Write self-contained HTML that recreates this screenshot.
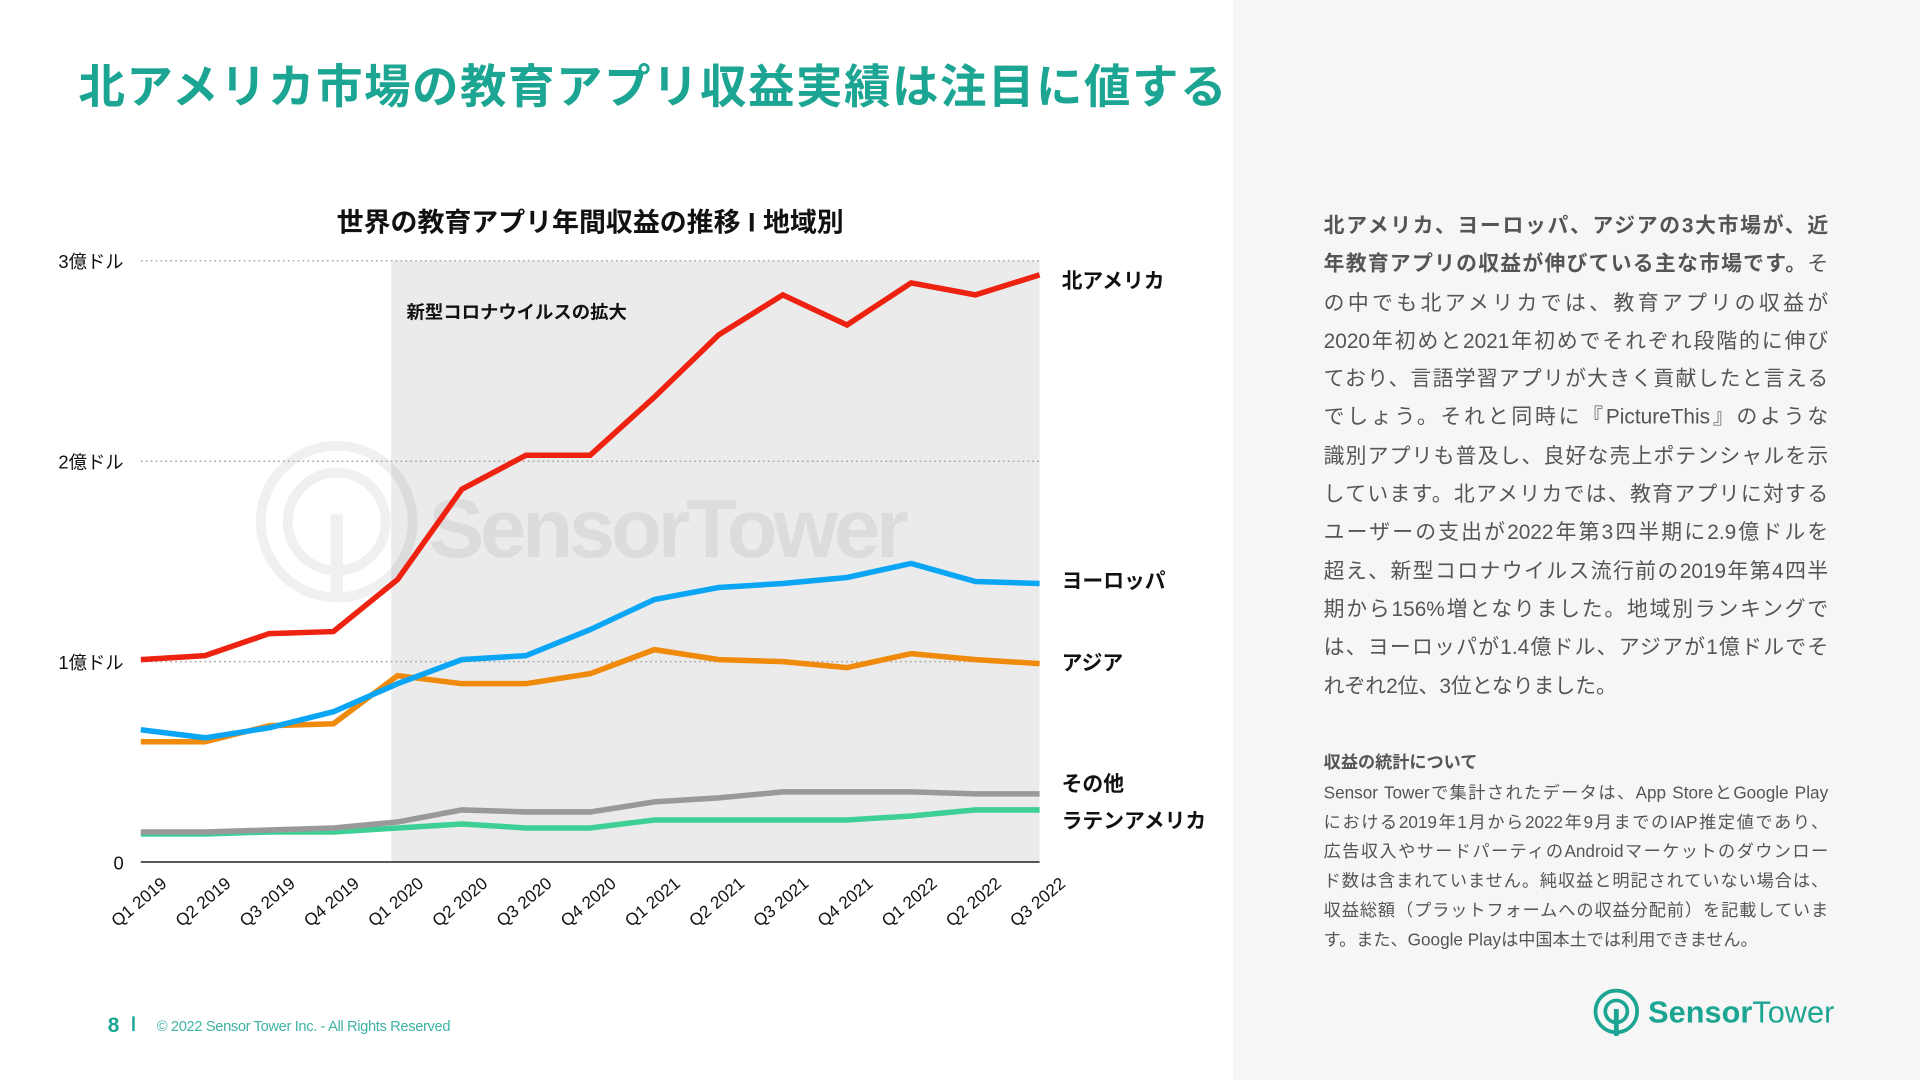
<!DOCTYPE html>
<html><head><meta charset="utf-8">
<style>
html,body{margin:0;padding:0;width:1920px;height:1080px;overflow:hidden;background:#fff;}
#stage{position:absolute;left:0;top:0;width:1568px;height:882px;transform:scale(1.2244898);transform-origin:0 0;font-family:"Liberation Sans","Noto Sans CJK JP",sans-serif;}
.abs{position:absolute;}
#title{left:64px;top:40px;font-size:38px;font-weight:bold;color:#1ba592;letter-spacing:1.2px;white-space:nowrap;}
#panel{left:1007px;top:0;width:561px;height:882px;background:#f6f6f6;}
.para div{width:412px;text-align:justify;text-align-last:justify;font-size:17px;color:#555;height:31.3px;line-height:31.3px;white-space:nowrap;}
.note div{width:412px;text-align:justify;text-align-last:justify;font-size:14px;color:#555;height:24px;line-height:24px;white-space:nowrap;}
</style></head>
<body>
<div id="stage">
<div id="panel" class="abs"></div>
<div id="title" class="abs">北アメリカ市場の教育アプリ収益実績は注目に値する</div>

<svg class="abs" style="left:0;top:0" width="1007" height="882">
 <g id="plot"></g>
 <text x="482" y="189" text-anchor="middle" font-size="22" font-weight="bold" fill="#111">世界の教育アプリ年間収益の推移 I 地域別</text>
</svg>

<div class="abs para" style="left:1081px;top:169px">
<div style="font-weight:bold">北アメリカ、ヨーロッパ、アジアの3大市場が、近</div>
<div><b>年教育アプリの収益が伸びている主な市場です。</b>そ</div>
<div>の中でも北アメリカでは、教育アプリの収益が</div>
<div>2020年初めと2021年初めでそれぞれ段階的に伸び</div>
<div>ており、言語学習アプリが大きく貢献したと言える</div>
<div>でしょう。それと同時に『PictureThis』のような</div>
<div>識別アプリも普及し、良好な売上ポテンシャルを示</div>
<div>しています。北アメリカでは、教育アプリに対する</div>
<div>ユーザーの支出が2022年第3四半期に2.9億ドルを</div>
<div>超え、新型コロナウイルス流行前の2019年第4四半</div>
<div>期から156%増となりました。地域別ランキングで</div>
<div>は、ヨーロッパが1.4億ドル、アジアが1億ドルでそ</div>
<div style="text-align-last:left">れぞれ2位、3位となりました。</div>
</div>
<div class="abs" style="left:1081px;top:612px;font-size:14px;font-weight:bold;color:#555">収益の統計について</div>
<div class="abs note" style="left:1081px;top:635px">
<div>Sensor Towerで集計されたデータは、App StoreとGoogle Play</div>
<div>における2019年1月から2022年9月までのIAP推定値であり、</div>
<div>広告収入やサードパーティのAndroidマーケットのダウンロー</div>
<div>ド数は含まれていません。純収益と明記されていない場合は、</div>
<div>収益総額（プラットフォームへの収益分配前）を記載していま</div>
<div style="text-align-last:left">す。また、Google Playは中国本土では利用できません。</div>
</div>

<svg class="abs" style="left:1300px;top:805px" width="210" height="42">
 <circle cx="20" cy="21" r="17" fill="none" stroke="#1ba592" stroke-width="3"/>
 <circle cx="20" cy="21" r="9" fill="none" stroke="#1ba592" stroke-width="3"/>
 <rect x="18" y="19" width="4" height="22" fill="#1ba592"/>
 <text x="46" y="30" font-size="25" fill="#1ba592" font-family="Liberation Sans,sans-serif" textLength="152"><tspan font-weight="bold">Sensor</tspan>Tower</text>
</svg>
<div class="abs" style="left:88px;top:828px;font-size:17px;font-weight:bold;color:#1ba592">8</div>
<div class="abs" style="left:108px;top:830px;width:2px;height:12px;background:#1ba592"></div>
<div class="abs" style="left:128px;top:831px;font-size:12px;color:#3fb3a2;letter-spacing:-0.3px">© 2022 Sensor Tower Inc. - All Rights Reserved</div>
</div>

<script>
const categories=["Q1 2019","Q2 2019","Q3 2019","Q4 2019","Q1 2020","Q2 2020","Q3 2020","Q4 2020","Q1 2021","Q2 2021","Q3 2021","Q4 2021","Q1 2022","Q2 2022","Q3 2022"];
const northAmerica=[1.01,1.03,1.14,1.15,1.41,1.86,2.03,2.03,2.32,2.63,2.83,2.68,2.89,2.83,2.93];
const europe=[0.66,0.62,0.67,0.75,0.89,1.01,1.03,1.16,1.31,1.37,1.39,1.42,1.49,1.40,1.39];
const asia=[0.60,0.60,0.68,0.69,0.93,0.89,0.89,0.94,1.06,1.01,1.00,0.97,1.04,1.01,0.99];
const other=[0.15,0.15,0.16,0.17,0.20,0.26,0.25,0.25,0.30,0.32,0.35,0.35,0.35,0.34,0.34];
const latam=[0.14,0.14,0.15,0.15,0.17,0.19,0.17,0.17,0.21,0.21,0.21,0.21,0.23,0.26,0.26];
const yTicks=[0,1,2,3];
const yTickLabels=["0","1億ドル","2億ドル","3億ドル"];
const covidStart=3.9;

const NS="http://www.w3.org/2000/svg";
const g=document.getElementById('plot');
const X0=115,X1=849,Y0=704,Y1=213,YMAX=3;
const x=i=>X0+(X1-X0)*i/(categories.length-1);
const y=v=>Y0-(Y0-Y1)*v/YMAX;
function mk(tag,attrs,parent){const e=document.createElementNS(NS,tag);for(const k in attrs)e.setAttribute(k,attrs[k]);(parent||g).appendChild(e);return e;}

const sh=mk('rect',{x:x(covidStart),y:y(YMAX),width:X1-x(covidStart),height:Y0-y(YMAX),fill:'#ebebeb'});



const wm=mk('g',{opacity:0.06});


mk('circle',{cx:275,cy:426,r:62,fill:'none',stroke:'#000','stroke-width':8},wm);
mk('circle',{cx:275,cy:426,r:40,fill:'none',stroke:'#000','stroke-width':8},wm);
mk('rect',{x:270,y:420,width:10,height:70,fill:'#000'},wm);
const wt=mk('text',{x:350,y:455,'font-size':68,'font-weight':'bold',fill:'#000',textLength:392},wm);
wt.textContent='SensorTower';

const st=mk('text',{x:332,y:260,'font-size':15,'font-weight':'bold',fill:'#111'});
st.textContent='新型コロナウイルスの拡大';



yTicks.forEach((t,i)=>{
 if(t>0){const l=mk('line',{x1:X0,x2:X1,y1:y(t),y2:y(t),stroke:'#aaa','stroke-width':1.2,'stroke-dasharray':'1.5 2.5'});
 
 }
 const tx=mk('text',{x:101,y:y(t)+6,'text-anchor':'end','font-size':15,fill:'#111'});
 tx.textContent=yTickLabels[i];
 
 
});
const ax=mk('line',{x1:X0,x2:X1,y1:Y0,y2:Y0,stroke:'#222','stroke-width':1.2});


categories.forEach((c,i)=>{
 const ax0=x(i)+22, ay0=Y0+19;
 const t=mk('text',{x:ax0,y:ay0,'text-anchor':'end','font-size':14,fill:'#111',transform:`rotate(-40 ${ax0} ${ay0})`});
 t.textContent=c;
 
 
});
const series=[[latam,'#3ecf97','ラテンアメリカ',676,'series-latin-america'],[other,'#999999','その他',646,'series-other'],[asia,'#ef8a0b','アジア',547,'series-asia'],[europe,'#0aa6f5','ヨーロッパ',480,'series-europe'],[northAmerica,'#ee2211','北アメリカ',235,'series-north-america']];
series.forEach(([d,col,name,ly,dn])=>{
 const p=mk('polyline',{points:d.map((v,i)=>x(i)+','+y(v)).join(' '),fill:'none',stroke:col,'stroke-width':4.5,'stroke-linejoin':'miter'});
 
 
 const t=mk('text',{x:867,y:ly,'font-size':17,'font-weight':'bold',fill:'#111'});
 t.textContent=name;
 
 
});
</script>
</body></html>
